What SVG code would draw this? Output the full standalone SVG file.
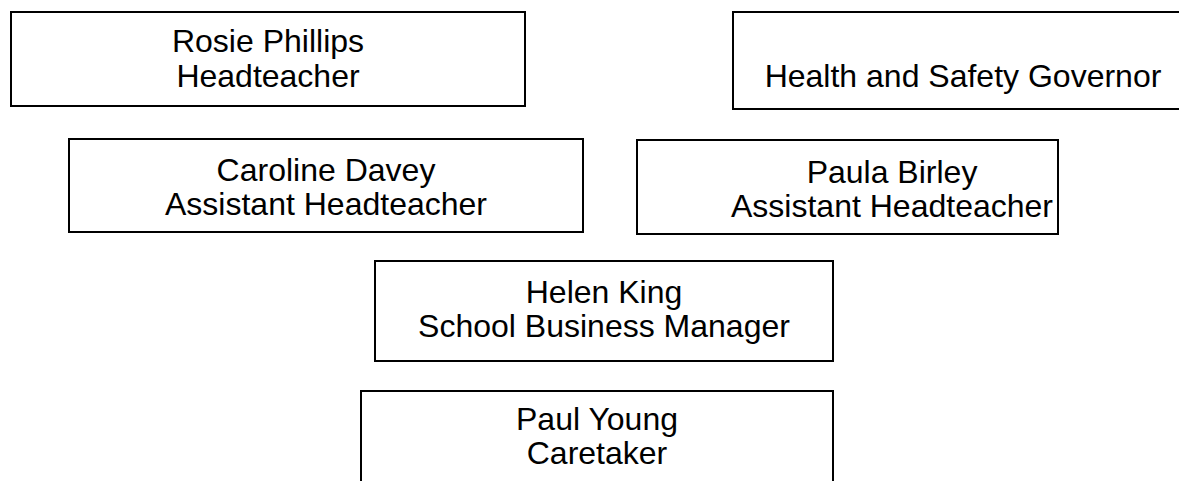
<svg xmlns="http://www.w3.org/2000/svg" width="1179" height="481" viewBox="0 0 1179 481">
<style>
rect.box{fill:#fff;stroke:#000;stroke-width:2}
text{font-family:"Liberation Sans",Arial,sans-serif;font-size:32px;fill:#000;text-anchor:middle}
</style>
<rect width="1179" height="481" fill="#fff"/>
<g id="connectors"></g>
<g id="rosie">
<rect class="box" x="11" y="12" width="514" height="94"/>
<text x="268" y="52">Rosie Phillips</text>
<text x="268" y="87">Headteacher</text>
</g>
<g id="governor">
<rect class="box" x="733" y="12" width="470" height="97"/>
<text x="963" y="87">Health and Safety Governor</text>
</g>
<g id="caroline">
<rect class="box" x="69" y="139" width="514" height="93"/>
<text x="326" y="181">Caroline Davey</text>
<text x="326" y="215">Assistant Headteacher</text>
</g>
<g id="paula">
<rect class="box" x="637" y="140" width="421" height="94"/>
<text x="892" y="183">Paula Birley</text>
<text x="892" y="217">Assistant Headteacher</text>
</g>
<g id="helen">
<rect class="box" x="375" y="261" width="458" height="100"/>
<text x="604" y="303">Helen King</text>
<text x="604" y="337">School Business Manager</text>
</g>
<g id="paul">
<rect class="box" x="361" y="391" width="472" height="120"/>
<text x="597" y="430">Paul Young</text>
<text x="597" y="464">Caretaker</text>
</g>
</svg>
